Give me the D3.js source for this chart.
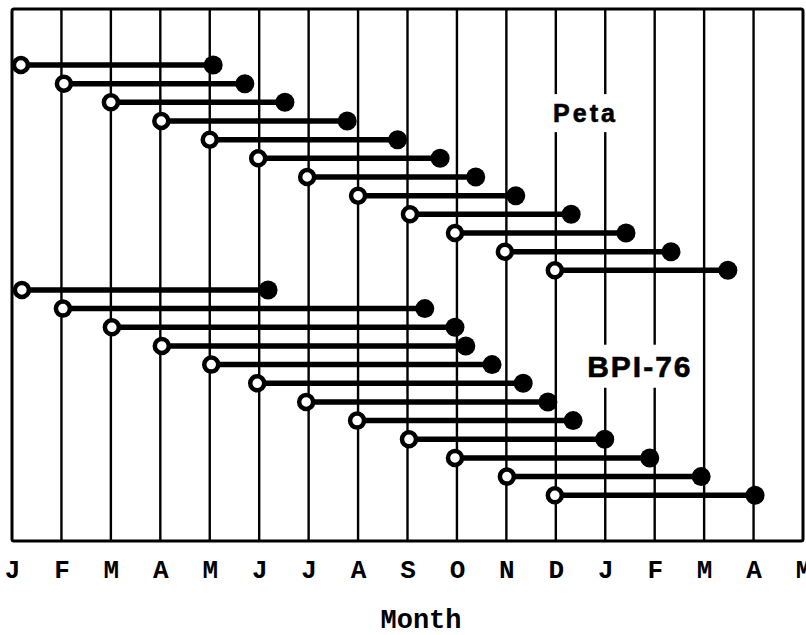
<!DOCTYPE html>
<html>
<head>
<meta charset="utf-8">
<script src="https://cdn.jsdelivr.net/npm/d3@7"></script>
<style>
  body { margin: 0; background: #fff; }
  .monthAxis text {
    font-family: "Liberation Mono", "DejaVu Sans Mono", monospace;
    font-weight: bold;
    font-size: 26px;
    fill: #000;
  }
  .axisTitle {
    font-family: "Liberation Mono", "DejaVu Sans Mono", monospace;
    font-weight: bold;
    font-size: 27px;
  }
  .groupLabel {
    font-family: "Liberation Sans", Arial, sans-serif;
    font-weight: bold;
    stroke: #000;
    stroke-width: 0.6px;
  }
</style>
</head>
<body>
<svg id="chart"></svg>
<script>
// month ticks, Jan of year 1 through May of year 2
var months = ["J", "F", "M", "A", "M", "J", "J", "A", "S", "O", "N", "D",
              "J", "F", "M", "A", "M"];

// start (open circle) and end (filled circle), in months from 1 Jan
var petaStart = [0.18, 1.05, 2.0, 3.02, 4.0, 4.98, 5.97, 7.0, 8.05, 8.96, 9.97, 10.98];
var petaEnd = [4.07, 4.71, 5.52, 6.78, 7.8, 8.66, 9.38, 10.19, 11.31, 12.42, 13.33, 14.48];

var bpiStart = [0.2, 1.03, 2.02, 3.03, 4.03, 4.96, 5.95, 6.98, 8.03, 8.96, 10.01, 10.98];
var bpiEnd = [5.18, 8.35, 8.96, 9.18, 9.71, 10.34, 10.84, 11.35, 11.99, 12.9, 13.94, 15.03];

var groupNames = ["Peta", "BPI-76"];

var screen = { width: 806, height: 635 };
var box = { left: 12, right: 803, top: 9, bottom: 541 };

var svg = d3.select("#chart")
  .attr("width", screen.width)
  .attr("height", screen.height);

svg.append("rect")
  .attr("width", screen.width)
  .attr("height", screen.height)
  .attr("fill", "#fff");

//scales//
var xScale = d3.scaleLinear()
  .domain([0, months.length - 1])
  .range([box.left, box.right]);

// rows: peta rows 0..11, bpi rows follow after a small gap
var yScale = d3.scaleLinear()
  .domain([-3, 25.5])
  .range([box.top, box.bottom]);

var groupOffset = [0, 12.05];

var rows = [];
var addRows = function (starts, ends, g) {
  starts.forEach(function (s, i) {
    rows.push({ group: g, row: groupOffset[g] + i, start: s, end: ends[i] });
  });
};
addRows(petaStart, petaEnd, 0);
addRows(bpiStart, bpiEnd, 1);

//vertical month lines//
svg.append("g")
  .classed("grid", true)
  .selectAll("line")
  .data(d3.range(1, months.length - 1))
  .enter()
  .append("line")
  .attr("x1", function (i) { return xScale(i); })
  .attr("x2", function (i) { return xScale(i); })
  .attr("y1", box.top)
  .attr("y2", box.bottom)
  .attr("stroke", "#000")
  .attr("stroke-width", 2.4);

//group labels with white patch behind//
var labelPos = [
  { m: 11.6, r: 3.06, size: 25, spacing: 3 },
  { m: 12.7, r: 16.7, size: 30, spacing: 2 }
];
var labels = svg.append("g").classed("labels", true);
groupNames.forEach(function (name, g) {
  var p = labelPos[g];
  var patch = labels.append("rect").attr("fill", "#fff");
  var t = labels.append("text")
    .classed("groupLabel", true)
    .text(name)
    .attr("text-anchor", "middle")
    .attr("x", xScale(p.m))
    .attr("y", yScale(p.r))
    .style("font-size", p.size + "px")
    .style("letter-spacing", p.spacing + "px");
  var bb = t.node().getBBox();
  patch
    .attr("x", bb.x - 4)
    .attr("y", bb.y - 5)
    .attr("width", bb.width + 8)
    .attr("height", bb.height + 10);
});

//dumbbells//
var marks = svg.append("g").classed("marks", true);

marks.selectAll("line")
  .data(rows)
  .enter()
  .append("line")
  .attr("x1", function (d) { return xScale(d.start); })
  .attr("x2", function (d) { return xScale(d.end); })
  .attr("y1", function (d) { return yScale(d.row); })
  .attr("y2", function (d) { return yScale(d.row); })
  .attr("stroke", "#000")
  .attr("stroke-width", 5.5);

marks.selectAll("circle.end")
  .data(rows)
  .enter()
  .append("circle")
  .classed("end", true)
  .attr("cx", function (d) { return xScale(d.end); })
  .attr("cy", function (d) { return yScale(d.row); })
  .attr("r", 9.5)
  .attr("fill", "#000");

marks.selectAll("circle.start")
  .data(rows)
  .enter()
  .append("circle")
  .classed("start", true)
  .attr("cx", function (d) { return xScale(d.start); })
  .attr("cy", function (d) { return yScale(d.row); })
  .attr("r", 7)
  .attr("fill", "#fff")
  .attr("stroke", "#000")
  .attr("stroke-width", 4.5);

//frame//
svg.append("rect")
  .attr("x", box.left)
  .attr("y", box.top)
  .attr("width", box.right - box.left)
  .attr("height", box.bottom - box.top)
  .attr("rx", 2)
  .attr("fill", "none")
  .attr("stroke", "#000")
  .attr("stroke-width", 3);

//axis//
var xAxis = d3.axisBottom(xScale)
  .tickValues(d3.range(months.length))
  .tickFormat(function (i) { return months[i]; })
  .tickSize(0);

var axisG = svg.append("g")
  .classed("monthAxis", true)
  .attr("transform", "translate(0," + box.bottom + ")")
  .call(xAxis);
axisG.select(".domain").remove();
axisG.selectAll("text")
  .attr("y", 37)
  .attr("dy", 0)
  .attr("font-family", null)
  .attr("font-size", null);

svg.append("text")
  .classed("axisTitle", true)
  .text("Month")
  .attr("text-anchor", "middle")
  .attr("x", 421)
  .attr("y", 628);
</script>
</body>
</html>
